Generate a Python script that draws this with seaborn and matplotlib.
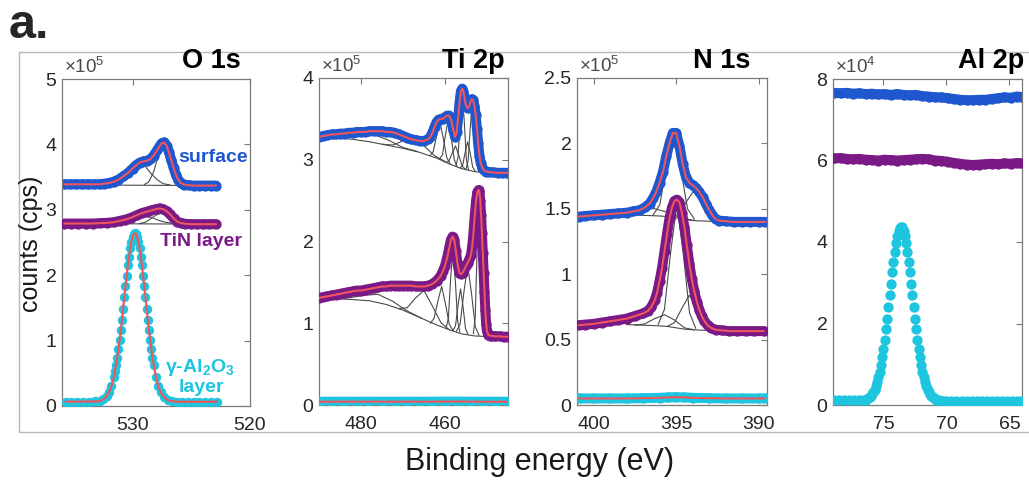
import matplotlib
matplotlib.use("Agg")
import matplotlib.pyplot as plt
import seaborn as sns
from matplotlib.patches import Rectangle

# ------------------------------------------------------------------
# DATA  (binding energy in eV; counts in units of the axis multiplier)
# ------------------------------------------------------------------
# ---- O 1s (x 1e5 cps)
o1s_surf_x = [535.8, 535.3, 534.8, 534.3, 533.8, 533.3, 532.8, 532.4, 532.0, 531.6, 531.2, 530.8, 530.4,
              530.0, 529.7, 529.4, 529.1, 528.8, 528.5, 528.2, 527.9, 527.7, 527.5, 527.3, 527.1, 526.9,
              526.7, 526.5, 526.3, 526.1, 525.9, 525.6, 525.2, 524.8, 524.3, 523.8, 523.3, 522.9]
o1s_surf_y = [3.39, 3.39, 3.39, 3.39, 3.39, 3.39, 3.39, 3.40, 3.41, 3.43, 3.46, 3.51, 3.56,
              3.63, 3.68, 3.72, 3.74, 3.75, 3.77, 3.83, 3.91, 3.97, 4.02, 4.03, 3.98, 3.88,
              3.76, 3.64, 3.53, 3.46, 3.41, 3.385, 3.375, 3.37, 3.37, 3.37, 3.37, 3.37]
o1s_tin_x = [535.8, 535.2, 534.6, 534.0, 533.4, 532.8, 532.2, 531.6, 531.1, 530.6, 530.1, 529.6, 529.2,
             528.8, 528.4, 528.0, 527.7, 527.4, 527.1, 526.8, 526.5, 526.2, 525.9, 525.5, 525.0, 524.5,
             524.0, 523.5, 522.9]
o1s_tin_y = [2.79, 2.79, 2.79, 2.79, 2.79, 2.795, 2.80, 2.81, 2.83, 2.85, 2.88, 2.92, 2.95,
             2.97, 2.99, 3.01, 3.02, 3.01, 2.98, 2.93, 2.87, 2.82, 2.80, 2.785, 2.78, 2.78,
             2.78, 2.78, 2.78]
o1s_al_x = [535.7, 535.2, 534.7, 534.2, 533.7, 533.2, 532.8, 532.5, 532.2, 532.0, 531.8, 531.6, 531.5,
            531.4, 531.3, 531.2, 531.1, 531.0, 530.9, 530.8, 530.7, 530.6, 530.5, 530.4, 530.3, 530.2,
            530.1, 530.0, 529.9, 529.8, 529.7, 529.6, 529.5, 529.4, 529.3, 529.2, 529.1, 529.0, 528.9,
            528.8, 528.7, 528.6, 528.5, 528.4, 528.3, 528.2, 528.0, 527.8, 527.6, 527.3, 527.0, 526.6,
            526.2, 525.8, 525.3, 524.8, 524.3, 523.8, 523.3, 522.8]
o1s_al_y = [0.066, 0.066, 0.066, 0.067, 0.068, 0.07, 0.075, 0.10, 0.15, 0.21, 0.30, 0.44, 0.53,
            0.63, 0.74, 0.87, 1.01, 1.16, 1.32, 1.49, 1.66, 1.83, 1.99, 2.15, 2.28, 2.41,
            2.51, 2.58, 2.63, 2.64, 2.63, 2.58, 2.51, 2.41, 2.28, 2.15, 1.99, 1.83, 1.66,
            1.49, 1.32, 1.16, 1.01, 0.87, 0.74, 0.63, 0.44, 0.30, 0.21, 0.13, 0.09, 0.072,
            0.066, 0.065, 0.065, 0.065, 0.065, 0.065, 0.065, 0.065]
# fitted components (x list, y list)
o1s_surf_components = [
    ([532.4, 525.4], [3.378, 3.372]),
    ([532.0, 531.4, 530.9, 530.4, 529.9, 529.4, 528.9, 528.4, 527.9, 527.4, 526.8],
     [3.38, 3.40, 3.46, 3.55, 3.66, 3.71, 3.66, 3.55, 3.46, 3.40, 3.38]),
    ([529.0, 528.6, 528.2, 527.9, 527.6, 527.4, 527.2, 526.9, 526.6, 526.2, 525.8],
     [3.384, 3.43, 3.58, 3.77, 3.94, 3.975, 3.94, 3.77, 3.58, 3.43, 3.384]),
]
o1s_tin_components = [
    ([531.8, 525.6], [2.787, 2.782]),
    ([531.5, 530.8, 530.2, 529.6, 529.0, 528.4, 527.8, 527.2, 526.5],
     [2.79, 2.81, 2.84, 2.885, 2.905, 2.885, 2.84, 2.81, 2.79]),
    ([529.4, 528.9, 528.4, 528.0, 527.6, 527.2, 526.8, 526.3, 525.8],
     [2.79, 2.81, 2.87, 2.92, 2.945, 2.92, 2.87, 2.81, 2.79]),
]

# ---- Ti 2p (x 1e5 cps)
ti_surf_x = [490, 489, 488, 487, 486, 485, 484, 483, 482, 481, 480, 479, 478, 477, 476, 475, 474, 473,
             472, 471, 470, 469, 468, 467, 466, 465, 464, 463.5, 463.0, 462.5, 462.0, 461.5, 461.0,
             460.5, 460.0, 459.5, 459.0, 458.5, 458.0, 457.6, 457.2, 456.8, 456.5, 456.2, 455.9, 455.6,
             455.3, 455.0, 454.6, 454.2, 453.9, 453.6, 453.3, 453.0, 452.7, 452.4, 452.1, 451.8, 451.5,
             451.1, 450.7, 450.2, 449.5, 448.5, 447.5, 446.5, 445.5, 445.1]
ti_surf_y = [3.28, 3.29, 3.30, 3.31, 3.31, 3.32, 3.32, 3.33, 3.33, 3.34, 3.34, 3.34, 3.35, 3.35, 3.35,
             3.35, 3.34, 3.34, 3.33, 3.31, 3.29, 3.27, 3.25, 3.24, 3.23, 3.23, 3.25, 3.28, 3.33, 3.40,
             3.46, 3.49, 3.50, 3.50, 3.52, 3.54, 3.54, 3.48, 3.36, 3.28, 3.34, 3.55, 3.72, 3.84, 3.87,
             3.83, 3.74, 3.66, 3.63, 3.66, 3.72, 3.74, 3.73, 3.66, 3.55, 3.38, 3.20, 3.05, 2.96, 2.90,
             2.87, 2.855, 2.85, 2.845, 2.84, 2.84, 2.84, 2.84]
ti_tin_x = [490, 489, 488, 487, 486, 485, 484, 483, 482, 481, 480, 479, 478, 477, 476, 475, 474, 473,
            472, 471, 470, 469, 468, 467, 466, 465, 464, 463, 462, 461, 460.5, 460.0, 459.5, 459.0,
            458.6, 458.2, 457.8, 457.4, 457.0, 456.6, 456.2, 455.8, 455.4, 455.0, 454.6, 454.2, 453.8,
            453.5, 453.2, 452.9, 452.6, 452.3, 452.0, 451.8, 451.6, 451.4, 451.2, 451.0, 450.8, 450.6,
            450.4, 450.2, 450.0, 449.7, 449.3, 448.8, 448.0, 447.0, 446.0, 445.1]
ti_tin_y = [1.31, 1.32, 1.33, 1.34, 1.35, 1.36, 1.37, 1.38, 1.39, 1.40, 1.40, 1.41, 1.42, 1.43, 1.44,
            1.45, 1.45, 1.46, 1.46, 1.46, 1.46, 1.46, 1.46, 1.45, 1.45, 1.45, 1.46, 1.48, 1.52, 1.58,
            1.64, 1.70, 1.80, 1.92, 2.02, 2.06, 2.02, 1.88, 1.72, 1.62, 1.60, 1.62, 1.66, 1.70, 1.74,
            1.78, 1.84, 1.95, 2.12, 2.33, 2.50, 2.60, 2.63, 2.60, 2.50, 2.32, 2.10, 1.86, 1.62, 1.38,
            1.16, 0.99, 0.90, 0.86, 0.85, 0.845, 0.84, 0.84, 0.835, 0.835]
ti_al_x = [490, 487, 484, 481, 478, 475, 472, 469, 466, 463, 460, 457, 454, 451, 448, 445.1]
ti_al_y = [0.04, 0.04, 0.041, 0.04, 0.041, 0.04, 0.04, 0.041, 0.04, 0.041, 0.042, 0.042, 0.041, 0.04,
           0.04, 0.04]
ti_surf_components = [
    ([490, 486, 482, 478, 474, 470, 466, 462, 459, 456, 453, 451, 449.5],
     [3.28, 3.27, 3.25, 3.22, 3.18, 3.14, 3.09, 3.02, 2.95, 2.89, 2.855, 2.845, 2.84]),
    ([487.5, 484, 480.5, 477, 473.5, 470, 466.5], [3.27, 3.27, 3.30, 3.31, 3.24, 3.15, 3.10]),
    ([475, 472.5, 470, 467.5, 465, 462.5, 460], [3.19, 3.18, 3.23, 3.26, 3.17, 3.05, 2.98]),
    ([463.6, 462.8, 462.0, 461.2, 460.4, 459.6, 458.8], [3.05, 3.10, 3.29, 3.455, 3.26, 3.03, 2.95]),
    ([461.3, 460.6, 459.9, 459.2, 458.5, 457.8, 457.1], [3.01, 3.06, 3.30, 3.505, 3.27, 3.00, 2.915]),
    ([459.9, 459.1, 458.3, 457.5, 456.7, 455.9, 455.1], [2.97, 2.98, 3.08, 3.17, 3.05, 2.92, 2.88]),
    ([457.4, 456.9, 456.4, 455.9, 455.4, 454.9, 454.4], [2.925, 3.03, 3.47, 3.835, 3.46, 3.00, 2.875]),
    ([456.4, 455.8, 455.2, 454.6, 454.0, 453.4, 452.8], [2.90, 2.93, 3.09, 3.22, 3.08, 2.91, 2.86]),
    ([455.0, 454.5, 454.0, 453.5, 453.0, 452.5, 452.0], [2.885, 2.985, 3.38, 3.71, 3.37, 2.965, 2.86]),
]
ti_tin_components = [
    ([490, 486, 482, 478, 474, 470, 466, 462, 459, 456, 453, 451, 449.5],
     [1.305, 1.30, 1.29, 1.275, 1.23, 1.16, 1.07, 0.98, 0.92, 0.87, 0.845, 0.84, 0.835]),
    ([486.5, 483, 479.5, 476, 472.5, 469, 465.5], [1.30, 1.31, 1.34, 1.355, 1.27, 1.15, 1.06]),
    ([471, 469, 467, 465, 463, 461, 459], [1.18, 1.19, 1.31, 1.40, 1.21, 1.01, 0.92]),
    ([463.5, 462.6, 461.7, 460.8, 459.9, 459.0, 458.1], [1.00, 1.06, 1.27, 1.45, 1.24, 0.99, 0.91]),
    ([459.75, 459.2, 458.65, 458.1, 457.55, 457.0, 456.45], [0.94, 1.06, 1.55, 1.955, 1.53, 1.03, 0.89]),
    ([458.1, 457.5, 456.9, 456.3, 455.7, 455.1, 454.5], [0.91, 0.97, 1.22, 1.42, 1.20, 0.93, 0.86]),
    ([457.3, 456.4, 455.5, 454.6, 453.7, 452.8, 451.9], [0.90, 0.99, 1.38, 1.705, 1.37, 0.96, 0.85]),
    ([453.25, 452.8, 452.35, 451.9, 451.45, 451.0, 450.55], [0.87, 1.08, 1.905, 2.59, 1.90, 1.08, 0.86]),
]

# ---- N 1s (x 1e5 cps)
n_surf_x = [400.9, 400.5, 400.0, 399.5, 399.0, 398.5, 398.0, 397.6, 397.2, 396.9, 396.6, 396.4, 396.2,
            396.0, 395.8, 395.6, 395.4, 395.2, 395.0, 394.8, 394.6, 394.4, 394.2, 394.0, 393.8, 393.6,
            393.4, 393.2, 393.0, 392.8, 392.6, 392.4, 392.0, 391.5, 391.0, 390.5, 390.0, 389.6]
n_surf_y = [1.44, 1.445, 1.45, 1.455, 1.46, 1.465, 1.47, 1.48, 1.49, 1.51, 1.54, 1.58, 1.63,
            1.70, 1.78, 1.90, 2.00, 2.08, 2.08, 1.98, 1.84, 1.74, 1.70, 1.68, 1.66, 1.63,
            1.59, 1.54, 1.49, 1.45, 1.42, 1.41, 1.405, 1.40, 1.40, 1.40, 1.40, 1.40]
n_tin_x = [400.9, 400.5, 400.0, 399.5, 399.0, 398.5, 398.0, 397.5, 397.0, 396.7, 396.5, 396.3, 396.15,
           396.0, 395.85, 395.7, 395.55, 395.4, 395.25, 395.1, 394.95, 394.8, 394.65, 394.5, 394.35,
           394.2, 394.05, 393.9, 393.75, 393.6, 393.45, 393.3, 393.1, 392.9, 392.6, 392.2, 391.8,
           391.3, 390.8, 390.3, 389.7]
n_tin_y = [0.61, 0.615, 0.62, 0.63, 0.64, 0.65, 0.66, 0.68, 0.70, 0.72, 0.75, 0.80, 0.86,
           0.95, 1.05, 1.18, 1.31, 1.43, 1.51, 1.56, 1.57, 1.55, 1.47, 1.36, 1.22,
           1.08, 0.96, 0.87, 0.79, 0.73, 0.68, 0.645, 0.61, 0.59, 0.575, 0.57, 0.565,
           0.565, 0.565, 0.565, 0.565]
n_al_x = [400.9, 400.0, 399.0, 398.0, 397.0, 396.0, 395.5, 395.0, 394.5, 394.0, 393.0, 392.0, 391.0,
          390.0, 389.6]
n_al_y = [0.05, 0.05, 0.05, 0.05, 0.052, 0.055, 0.058, 0.06, 0.058, 0.055, 0.052, 0.05, 0.05, 0.05, 0.05]
n_surf_components = [
    ([398.0, 397.0, 396.0, 395.5, 395.0, 394.5, 394.0, 393.0, 392.0],
     [1.455, 1.45, 1.445, 1.44, 1.43, 1.42, 1.41, 1.405, 1.40]),
    ([396.41, 395.99, 395.57, 395.15, 394.73, 394.31, 393.89], [1.45, 1.53, 1.83, 2.075, 1.81, 1.50, 1.42]),
    ([395.3, 394.8, 394.3, 393.8, 393.3, 392.8, 392.3], [1.44, 1.46, 1.57, 1.66, 1.56, 1.44, 1.40]),
    ([399.3, 398.4, 397.5, 396.6, 395.7, 394.8, 393.9], [1.46, 1.46, 1.49, 1.51, 1.48, 1.435, 1.41]),
]
n_tin_components = [
    ([398.0, 397.0, 396.0, 395.5, 395.0, 394.5, 394.0, 393.0, 392.0],
     [0.615, 0.61, 0.605, 0.60, 0.59, 0.58, 0.575, 0.57, 0.565]),
    ([396.09, 395.71, 395.33, 394.95, 394.57, 394.19, 393.81], [0.615, 0.73, 1.17, 1.54, 1.16, 0.705, 0.585]),
    ([395.55, 395.1, 394.65, 394.2, 393.75, 393.3, 392.85], [0.60, 0.63, 0.74, 0.84, 0.73, 0.61, 0.57]),
    ([397.5, 396.9, 396.3, 395.7, 395.1, 394.5, 393.9], [0.61, 0.62, 0.66, 0.69, 0.65, 0.59, 0.575]),
]

# ---- Al 2p (x 1e4 cps)
al_surf_x = [78.9, 78.4, 77.9, 77.4, 76.9, 76.4, 75.9, 75.4, 74.9, 74.4, 73.9, 73.4, 72.9, 72.4, 71.9,
             71.4, 70.9, 70.4, 69.9, 69.4, 68.9, 68.4, 67.9, 67.4, 66.9, 66.4, 65.9, 65.4, 64.9, 64.4, 64.1]
al_surf_y = [7.66, 7.65, 7.66, 7.64, 7.65, 7.63, 7.64, 7.62, 7.63, 7.61, 7.63, 7.61, 7.60, 7.61, 7.58,
             7.57, 7.55, 7.55, 7.53, 7.51, 7.49, 7.48, 7.48, 7.49, 7.49, 7.51, 7.53, 7.55, 7.54, 7.57, 7.56]
al_tin_x = al_surf_x
al_tin_y = [6.05, 6.06, 6.04, 6.03, 6.04, 6.02, 6.01, 6.00, 6.02, 6.01, 6.00, 6.01, 6.02, 6.03, 6.04,
            6.03, 6.00, 5.99, 5.97, 5.94, 5.92, 5.90, 5.89, 5.90, 5.91, 5.92, 5.91, 5.93, 5.92, 5.94, 5.93]
al_al_x = [78.9, 78.5, 78.1, 77.7, 77.3, 76.9, 76.6, 76.4, 76.2, 76.1, 76.0, 75.9, 75.8, 75.7, 75.6,
           75.5, 75.4, 75.3, 75.2, 75.1, 75.0, 74.9, 74.8, 74.7, 74.6, 74.5, 74.4, 74.3, 74.2, 74.1,
           74.0, 73.9, 73.8, 73.7, 73.6, 73.5, 73.4, 73.3, 73.2, 73.1, 73.0, 72.9, 72.8, 72.7, 72.6,
           72.5, 72.4, 72.3, 72.2, 72.1, 72.0, 71.9, 71.8, 71.7, 71.6, 71.5, 71.4, 71.3, 71.2, 71.1,
           71.0, 70.8, 70.6, 70.3, 70.0, 69.6, 69.2, 68.8, 68.4, 68.0, 67.6, 67.2, 66.8, 66.4, 66.0,
           65.6, 65.2, 64.8, 64.4, 64.1]
al_al_y = [0.12, 0.12, 0.12, 0.12, 0.12, 0.115, 0.12, 0.13, 0.17, 0.19, 0.22, 0.26, 0.31, 0.38, 0.46,
           0.56, 0.68, 0.82, 0.98, 1.17, 1.37, 1.60, 1.86, 2.12, 2.40, 2.69, 2.98, 3.26, 3.52, 3.76,
           3.97, 4.14, 4.27, 4.35, 4.38, 4.36, 4.27, 4.14, 3.97, 3.76, 3.52, 3.26, 2.98, 2.69, 2.40,
           2.12, 1.86, 1.60, 1.37, 1.17, 0.98, 0.82, 0.68, 0.56, 0.46, 0.38, 0.31, 0.26, 0.22, 0.19,
           0.17, 0.13, 0.12, 0.11, 0.11, 0.11, 0.10, 0.11, 0.10, 0.10, 0.10, 0.11, 0.10, 0.10, 0.10,
           0.11, 0.10, 0.10, 0.10, 0.10]

panel_titles = ["O 1s", "Ti 2p", "N 1s", "Al 2p"]
panel_multipliers = ["5", "5", "5", "4"]
xticks_list = [[530, 520], [480, 460], [400, 395, 390], [75, 70, 65]]
yticks_list = [[0, 1, 2, 3, 4, 5], [0, 1, 2, 3, 4], [0, 0.5, 1, 1.5, 2, 2.5], [0, 2, 4, 6, 8]]
ytick_labels = [["0", "1", "2", "3", "4", "5"], ["0", "1", "2", "3", "4"],
                ["0", "0.5", "1", "1.5", "2", "2.5"], ["0", "2", "4", "6", "8"]]
xlims = [(536, 520), (490, 445), (401, 389.5), (79, 64)]
ylims = [(0, 5), (0, 4), (0, 2.5), (0, 8)]

for xs, ys in [(o1s_surf_x, o1s_surf_y), (o1s_tin_x, o1s_tin_y), (o1s_al_x, o1s_al_y),
               (ti_surf_x, ti_surf_y), (ti_tin_x, ti_tin_y), (ti_al_x, ti_al_y),
               (n_surf_x, n_surf_y), (n_tin_x, n_tin_y), (n_al_x, n_al_y),
               (al_surf_x, al_surf_y), (al_tin_x, al_tin_y), (al_al_x, al_al_y)]:
    assert len(xs) == len(ys), (len(xs), len(ys))

# ------------------------------------------------------------------
# STYLE
# ------------------------------------------------------------------
sns.set_style("white")
plt.rcParams["font.family"] = ["Liberation Sans", "DejaVu Sans"]
plt.rcParams["mathtext.fontset"] = "custom"
plt.rcParams["mathtext.rm"] = "Liberation Sans"
plt.rcParams["mathtext.bf"] = "Liberation Sans:bold"
plt.rcParams["mathtext.it"] = "Liberation Sans:italic"

BLUE = "#1f57cf"
PURPLE = "#7a1a86"
CYAN = "#1ec5df"
FIT = "#f2545b"
COMP = "#4a4a4a"
SPINE = "#7a7a7a"
TXT = "#262626"

W, H = 1029, 480
fig = plt.figure(figsize=(W / 100, H / 100), dpi=100)


def rect(l, r, t, b):
    return [l / W, 1 - b / H, (r - l) / W, (b - t) / H]


axes_px = [(62, 250, 79, 406), (319, 508, 78, 405), (577, 767, 78, 405), (833, 1022, 79, 405)]
title_left_px = [182, 442, 693, 958]
axes = [fig.add_axes(rect(*p)) for p in axes_px]


def draw_components(ax, comps):
    for cx, cy in comps:
        sns.lineplot(x=cx, y=cy, ax=ax, color=COMP, linewidth=0.8, sort=False, estimator=None, zorder=1)


def draw_data(ax, x, y, color, z, fit=True, band=True, s=55):
    if band:
        sns.lineplot(x=x, y=y, ax=ax, color=color, linewidth=7.2, sort=False, estimator=None,
                     zorder=z, solid_capstyle="round", solid_joinstyle="round")
    sns.scatterplot(x=x, y=y, ax=ax, color=color, s=s, linewidth=0, zorder=z + 0.1, legend=False)
    if fit:
        sns.lineplot(x=x, y=y, ax=ax, color=FIT, linewidth=1.5, sort=False, estimator=None, zorder=z + 0.2)


# O 1s
ax = axes[0]
draw_components(ax, o1s_surf_components)
draw_components(ax, o1s_tin_components)
draw_data(ax, o1s_surf_x, o1s_surf_y, BLUE, 2)
draw_data(ax, o1s_tin_x, o1s_tin_y, PURPLE, 3)
draw_data(ax, o1s_al_x, o1s_al_y, CYAN, 4, band=False, s=46)

# Ti 2p
ax = axes[1]
draw_components(ax, ti_surf_components)
draw_components(ax, ti_tin_components)
draw_data(ax, ti_surf_x, ti_surf_y, BLUE, 2)
draw_data(ax, ti_tin_x, ti_tin_y, PURPLE, 3)
draw_data(ax, ti_al_x, ti_al_y, CYAN, 4)

# N 1s
ax = axes[2]
draw_components(ax, n_surf_components)
draw_components(ax, n_tin_components)
draw_data(ax, n_surf_x, n_surf_y, BLUE, 2)
draw_data(ax, n_tin_x, n_tin_y, PURPLE, 3)
draw_data(ax, n_al_x, n_al_y, CYAN, 4)

# Al 2p
ax = axes[3]
draw_data(ax, al_surf_x, al_surf_y, BLUE, 2, fit=False)
draw_data(ax, al_tin_x, al_tin_y, PURPLE, 3, fit=False)
draw_data(ax, al_al_x, al_al_y, CYAN, 4, fit=False, band=False, s=55)

for i, ax in enumerate(axes):
    ax.set_xlim(*xlims[i])
    ax.set_ylim(*ylims[i])
    ax.set_xticks(xticks_list[i])
    ax.set_xticklabels([str(t) for t in xticks_list[i]])
    ax.set_yticks(yticks_list[i])
    ax.set_yticklabels(ytick_labels[i])
    ax.set_xlabel("")
    ax.set_ylabel("")
    ax.tick_params(direction="in", length=4, width=0.8, color=SPINE, labelcolor=TXT,
                   labelsize=14, top=True, right=True)
    ax.tick_params(axis="x", pad=8)
    ax.tick_params(axis="y", pad=4)
    for sp in ax.spines.values():
        sp.set_color(SPINE)
        sp.set_linewidth(0.9)
        sp.set_visible(True)
    ax.text(0.01, 1.005, "\u00d710$^{%s}$" % panel_multipliers[i], transform=ax.transAxes,
            ha="left", va="bottom", fontsize=13.5, color="#4a4a4a")
    fig.text(title_left_px[i] / W, 1 - 68 / H, panel_titles[i], fontsize=19.5, fontweight="bold",
             ha="left", va="baseline", color="black", zorder=5)

# annotations in O 1s panel
fig.text(178 / W, 1 - 158 / H, "surface", color=BLUE, fontsize=14, fontweight="bold",
         ha="left", va="center")
fig.text(160 / W, 1 - 242 / H, "TiN layer", color=PURPLE, fontsize=14, fontweight="bold",
         ha="left", va="center")
fig.text(200 / W, 1 - 367 / H, "\u03b3-Al$_\\mathbf{2}$O$_\\mathbf{3}$", color=CYAN, fontsize=14,
         fontweight="bold", ha="center", va="center")
fig.text(201 / W, 1 - 388 / H, "layer", color=CYAN, fontsize=14, fontweight="bold",
         ha="center", va="center")

# outer frame, panel letter and axis labels
fig.add_artist(Rectangle((19 / W, 1 - 432 / H), 1.2, (432 - 52) / H, transform=fig.transFigure,
                         fill=False, edgecolor="#b8b8b8", linewidth=1.0, zorder=0))
fig.text(9 / W, 1 - 38 / H, "a.", fontsize=35, fontweight="bold", ha="left", va="baseline")
fig.text(540 / W, 1 - 462 / H, "Binding energy (eV)", fontsize=22, ha="center", va="center", color="#1a1a1a")
fig.text(31 / W, 1 - 244 / H, "counts (cps)", fontsize=18, rotation=90, ha="center", va="center",
         color="#1a1a1a")

fig.savefig("out.png", dpi=100, facecolor="white")
